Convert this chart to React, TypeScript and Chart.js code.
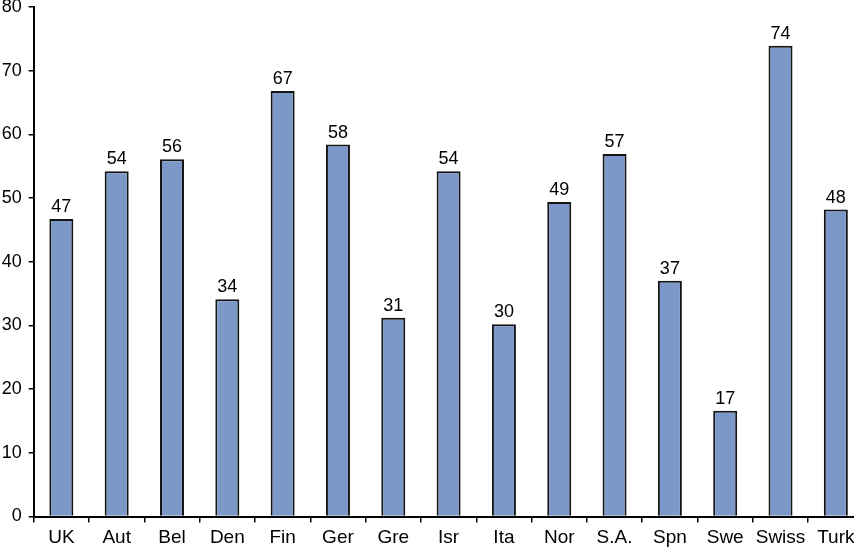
import React, { useEffect, useRef } from "react";
import { Chart, registerables } from "chart.js";

Chart.register(...registerables);

const categories = ["UK", "Aut", "Bel", "Den", "Fin", "Ger", "Gre", "Isr", "Ita", "Nor", "S.A.", "Spn", "Swe", "Swiss", "Turk"];
const values = [46.7, 54.2, 56.1, 34.1, 66.8, 58.4, 31.2, 54.2, 30.2, 49.4, 56.9, 37.0, 16.6, 73.9, 48.2];
const yTicks = [0, 10, 20, 30, 40, 50, 60, 70, 80];

const FONT = "'Liberation Sans', Arial, Helvetica, sans-serif";

const valueLabels = {
  id: "valueLabels",
  afterDatasetsDraw(chart: any) {
    const ctx = chart.ctx;
    const meta = chart.getDatasetMeta(0);
    ctx.save();
    ctx.font = `18px ${FONT}`;
    ctx.fillStyle = "#000";
    ctx.textAlign = "center";
    ctx.textBaseline = "alphabetic";
    meta.data.forEach((bar: any, i: number) => {
      ctx.fillText(String(Math.round(values[i])), bar.x, bar.y - 7);
    });
    ctx.restore();
  },
};

export default function App() {
  const ref = useRef<HTMLCanvasElement>(null);
  useEffect(() => {
    document.body.style.margin = "0";
    document.body.style.overflow = "hidden";
    const chart = new Chart(ref.current as HTMLCanvasElement, {
      type: "bar",
      data: {
        labels: categories,
        datasets: [
          {
            data: values,
            backgroundColor: "#7C98C9",
            borderColor: "#151515",
            borderWidth: 2,
            categoryPercentage: 1,
            barPercentage: 0.434,
          },
        ],
      },
      options: {
        animation: false,
        responsive: false,
        devicePixelRatio: 1,
        layout: { padding: { top: 7, right: 2.5, left: 0, bottom: 0 } },
        plugins: { legend: { display: false }, tooltip: { enabled: false } },
        scales: {
          x: {
            type: "category",
            offset: true,
            grid: { display: true, drawOnChartArea: false, drawTicks: true, tickLength: 6, color: "#000", lineWidth: 1.5, offset: true },
            border: { display: true, color: "#000", width: 2 },
            ticks: { color: "#000", font: { family: FONT, size: 19 }, padding: 4, maxRotation: 0, autoSkip: false },
            afterFit: (s: any) => {
              s.height = 31.5;
              s.paddingLeft = 0;
              s.paddingRight = 0;
            },
          },
          y: {
            min: 0,
            max: 80,
            afterBuildTicks: (s: any) => {
              s.ticks = yTicks.map((v) => ({ value: v }));
            },
            grid: { display: true, drawOnChartArea: false, drawTicks: true, tickLength: 5, color: "#000", lineWidth: 1.5 },
            border: { display: true, color: "#000", width: 2 },
            ticks: { color: "#000", font: { family: FONT, size: 18 }, padding: 7 },
            afterFit: (s: any) => {
              s.width = 33.7;
              s.paddingTop = 0;
              s.paddingBottom = 0;
            },
          },
        },
      },
      plugins: [valueLabels],
    });
    return () => chart.destroy();
  }, []);
  return (
    <div style={{ width: 854, height: 548, overflow: "hidden", position: "relative", background: "#fff" }}>
      <canvas ref={ref} width={866} height={548} style={{ display: "block" }} />
    </div>
  );
}
